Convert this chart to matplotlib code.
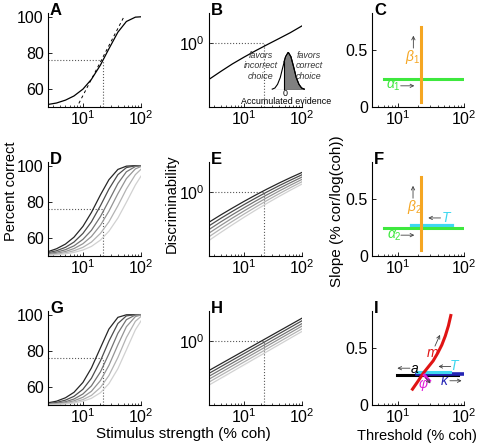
import matplotlib
matplotlib.use('Agg')
import matplotlib.pyplot as plt
from matplotlib.ticker import NullLocator, FixedLocator, LogLocator

plt.rcParams['font.family'] = ['Liberation Sans', 'DejaVu Sans']
plt.rcParams['mathtext.fontset'] = 'custom'
plt.rcParams['mathtext.rm'] = 'Liberation Sans'
plt.rcParams['mathtext.it'] = 'Liberation Sans:italic'
plt.rcParams['mathtext.bf'] = 'Liberation Sans:bold'

# ---- data ----
coh = [2.5, 3.5, 5, 7, 10, 14, 20, 28, 40, 56, 80, 100]
pc_a = [51.4, 52.2, 53.8, 56.1, 59.9, 65.3, 73.2, 82.2, 91.4, 97.3, 99.7, 99.9]
tangent_coh = [8.5, 51]
tangent_pc = [52, 100]
thresh_coh = 22
thresh_pc = 76

coh_b = [2.5, 4, 6.3, 10, 16, 25, 40, 63, 100]
dprime_b = [0.27, 0.36, 0.47, 0.60, 0.76, 0.94, 1.17, 1.45, 1.85]

# inset: distribution of accumulated evidence
evidence = [-2.2, -1.7, -1.2, -0.7, -0.2, 0.3, 0.8, 1.3, 1.8, 2.3, 2.8, 3.3, 3.8]
density = [0.01, 0.04, 0.14, 0.32, 0.61, 0.88, 1.0, 0.88, 0.61, 0.32, 0.14, 0.04, 0.01]

pc_d = [
    [52.4, 54.0, 56.6, 60.4, 66.4, 74.1, 83.8, 92.2, 97.9, 99.7, 100, 100],
    [51.8, 52.9, 54.8, 57.7, 62.5, 68.9, 77.8, 87.0, 95.0, 98.9, 99.9, 100],
    [51.3, 52.1, 53.5, 55.6, 59.2, 64.2, 71.8, 80.6, 90.1, 96.6, 99.5, 99.9],
    [50.9, 51.5, 52.5, 54.1, 56.8, 60.8, 67.0, 74.8, 84.5, 92.8, 98.2, 99.5],
    [50.6, 51.0, 51.8, 52.9, 54.8, 57.7, 62.5, 68.9, 77.8, 87.0, 95.0, 98.0],
    [50.4, 50.7, 51.2, 52.0, 53.3, 55.3, 58.8, 63.7, 71.0, 79.7, 89.3, 94.2],
]

dprime_e = [
    [0.337, 0.439, 0.560, 0.712, 0.899, 1.111, 1.375, 1.672, 2.02],
    [0.296, 0.388, 0.497, 0.635, 0.806, 1.003, 1.249, 1.528, 1.859],
    [0.259, 0.342, 0.441, 0.566, 0.724, 0.905, 1.134, 1.396, 1.710],
    [0.228, 0.301, 0.391, 0.505, 0.649, 0.817, 1.030, 1.276, 1.573],
    [0.200, 0.266, 0.347, 0.451, 0.583, 0.737, 0.935, 1.166, 1.446],
    [0.175, 0.234, 0.307, 0.402, 0.523, 0.666, 0.850, 1.066, 1.33],
]

pc_g = [
    [51.2, 52.1, 54.0, 57.0, 62.5, 70.5, 81.6, 92.0, 98.5, 99.9, 100, 100],
    [50.8, 51.4, 52.7, 54.8, 58.7, 64.8, 74.4, 85.3, 95.1, 99.3, 100, 100],
    [50.5, 51.0, 51.8, 53.3, 56.1, 60.6, 68.3, 78.3, 89.7, 97.2, 99.8, 100],
    [50.4, 50.7, 51.3, 52.3, 54.3, 57.6, 63.5, 71.9, 83.3, 93.3, 98.9, 99.8],
    [50.3, 50.5, 50.9, 51.6, 53.0, 55.3, 59.7, 66.3, 76.3, 87.3, 96.3, 99.0],
    [50.2, 50.3, 50.6, 51.1, 52.1, 53.7, 56.8, 61.8, 70.1, 80.5, 91.6, 96.5],
]

coh_h = [2.5, 100]
dprime_h = [
    [0.346, 2.27],
    [0.312, 2.07],
    [0.281, 1.87],
    [0.253, 1.71],
    [0.228, 1.55],
    [0.205, 1.41],
]

grays = ['0.15', '0.3', '0.45', '0.58', '0.7', '0.82']

# slope / threshold panels
alpha1_x, alpha1_y = [6, 100], [0.25, 0.25]
beta1_x, beta1_y = [22, 22], [0.04, 0.71]
alpha2_x, alpha2_y = [6, 100], [0.245, 0.245]
beta2_x, beta2_y = [22, 22], [0.05, 0.695]
t2_x, t2_y = [16, 65], [0.265, 0.265]
a_x, a_y = [9.7, 82], [0.262, 0.262]
kappa_x, kappa_y = [19, 100], [0.276, 0.276]
t3_x, t3_y = [19, 61], [0.289, 0.289]
m_x = [16.5, 20, 24, 29, 34, 40, 46, 52, 58, 63]
m_y = [0.14, 0.21, 0.28, 0.34, 0.39, 0.46, 0.53, 0.61, 0.70, 0.79]
phi_x, phi_y = [25, 29.8], [0.263, 0.214]

GREEN = '#3ee83e'
ORANGE = '#f5a623'
CYAN = '#3ed8f0'
BLUE = '#2424b4'
RED = '#e01414'
MAGENTA = '#e020d8'

W, H = 480, 447
fig = plt.figure(figsize=(W / 100, H / 100), dpi=100)

cols = [(48, 141), (209, 302), (372, 464)]
rows = [(13, 107), (162, 256), (311, 405)]


def make_ax(r, c):
    l, rr = cols[c]
    t, b = rows[r]
    ax = fig.add_axes([l / W, 1 - b / H, (rr - l) / W, (b - t) / H])
    ax.spines['top'].set_visible(False)
    ax.spines['right'].set_visible(False)
    for s in ('left', 'bottom'):
        ax.spines[s].set_linewidth(0.8)
    ax.set_xscale('log')
    ax.xaxis.set_major_locator(FixedLocator([10, 100]))
    ax.xaxis.set_minor_locator(LogLocator(base=10, subs=range(2, 10)))
    ax.tick_params(which='major', direction='in', length=3, width=0.6,
                   labelsize=11.5, pad=2)
    ax.tick_params(which='minor', direction='in', length=1.5, width=0.5)
    ax.tick_params(axis='y', pad=3)
    fig.text((l + 2) / W, 1 - (t + 2) / H, 'ABCDEFGHI'[r * 3 + c],
             fontsize=12, fontweight='bold', va='baseline', ha='left')
    return ax


def pc_axes(ax):
    ax.set_xlim(2.5, 100)
    ax.set_ylim(50, 102)
    ax.set_yticks([60, 80, 100])
    ax.yaxis.set_minor_locator(NullLocator())
    ax.plot([2.5, thresh_coh], [thresh_pc, thresh_pc], ':', color='0.35', lw=0.8)
    ax.plot([thresh_coh, thresh_coh], [50, thresh_pc], ':', color='0.35', lw=0.8)


def dp_axes(ax):
    ax.set_xlim(2.5, 100)
    ax.set_yscale('log')
    ax.set_ylim(0.1, 2.94)
    ax.yaxis.set_major_locator(FixedLocator([1]))
    ax.yaxis.set_minor_locator(NullLocator())
    ax.plot([2.5, thresh_coh], [1, 1], ':', color='0.35', lw=0.8)
    ax.plot([thresh_coh, thresh_coh], [0.1, 1], ':', color='0.35', lw=0.8)


def slope_axes(ax):
    ax.set_xlim(4, 100)
    ax.set_ylim(0, 0.83)
    ax.set_yticks([0, 0.5])
    ax.set_yticklabels(['0', '0.5'])
    ax.yaxis.set_minor_locator(NullLocator())


def arrow(ax, x0, y0, x1, y1):
    ax.annotate('', xy=(x1, y1), xytext=(x0, y0),
                arrowprops=dict(arrowstyle='->', lw=0.6, color='0.25',
                                mutation_scale=6, shrinkA=0, shrinkB=0))


# A
ax = make_ax(0, 0)
pc_axes(ax)
ax.plot(tangent_coh, tangent_pc, '--', color='k', lw=0.7, dashes=(3, 3))
ax.plot(coh, pc_a, color='k', lw=0.9)

# B
ax = make_ax(0, 1)
dp_axes(ax)
ax.plot(coh_b, dprime_b, color='k', lw=0.9)
ins = fig.add_axes([270 / W, 1 - 89.5 / H, 38 / W, 38 / H])
ins.axis('off')
ins.set_xlim(-2.62, 4.5)
ins.set_ylim(0, 1.02)
ins.plot(evidence, density, color='k', lw=0.8)
pos_x = [0] + [e for e in evidence if e > 0]
pos_y = [0.74] + [d for e, d in zip(evidence, density) if e > 0]
ins.fill_between(pos_x, pos_y, color='0.5', lw=0)
ins.plot(pos_x, pos_y, color='k', lw=0.8)
ins.plot([0, 0], [0, 0.74], color='k', lw=0.8)
ins.plot([evidence[0], evidence[-1]], [0, 0], color='k', lw=0.8)
fig.text(261 / W, 1 - 66 / H, 'favors\nincorrect\nchoice', fontsize=6.4,
         style='italic', ha='center', va='center', color='0.2')
fig.text(309 / W, 1 - 66 / H, 'favors\ncorrect\nchoice', fontsize=6.4,
         style='italic', ha='center', va='center', color='0.2')
fig.text(285 / W, 1 - 93 / H, '0', fontsize=6.4, ha='center', va='center')
fig.text(286 / W, 1 - 102 / H, 'Accumulated evidence', fontsize=6.4,
         ha='center', va='center')

# C
ax = make_ax(0, 2)
slope_axes(ax)
ax.plot(alpha1_x, alpha1_y, color=GREEN, lw=2.2)
ax.plot(beta1_x, beta1_y, color=ORANGE, lw=2.2)
ax.text(16.8, 0.445, r'$\beta_1$', color=ORANGE, fontsize=10, ha='center', va='center')
arrow(ax, 17, 0.52, 17, 0.63)
ax.text(8.6, 0.185, r'$\alpha_1$', color=GREEN, fontsize=10, ha='center', va='center')
arrow(ax, 10.9, 0.187, 17.6, 0.187)

# D
ax = make_ax(1, 0)
pc_axes(ax)
for k in range(6):
    ax.plot(coh, pc_d[k], color=grays[k], lw=0.9)

# E
ax = make_ax(1, 1)
dp_axes(ax)
for k in range(6):
    ax.plot(coh_b, dprime_e[k], color=grays[k], lw=0.9)

# F
ax = make_ax(1, 2)
slope_axes(ax)
ax.plot(t2_x, t2_y, color=CYAN, lw=3)
ax.plot(alpha2_x, alpha2_y, color=GREEN, lw=2.2)
ax.plot(beta2_x, beta2_y, color=ORANGE, lw=2.2)
ax.text(17.6, 0.435, r'$\beta_2$', color=ORANGE, fontsize=10, ha='center', va='center')
arrow(ax, 16.8, 0.51, 16.8, 0.62)
ax.text(55, 0.335, r'$T$', color=CYAN, fontsize=10, ha='center', va='center')
arrow(ax, 44, 0.336, 28.6, 0.336)
ax.text(8.9, 0.182, r'$\alpha_2$', color=GREEN, fontsize=10, ha='center', va='center')
arrow(ax, 11, 0.184, 17.6, 0.184)

# G
ax = make_ax(2, 0)
pc_axes(ax)
for k in range(6):
    ax.plot(coh, pc_g[k], color=grays[k], lw=0.9)

# H
ax = make_ax(2, 1)
dp_axes(ax)
for k in range(6):
    ax.plot(coh_h, dprime_h[k], color=grays[k], lw=0.9)

# I
ax = make_ax(2, 2)
slope_axes(ax)
ax.plot(a_x, a_y, color='k', lw=2.2)
ax.plot(kappa_x, kappa_y, color=BLUE, lw=2.6)
ax.plot(t3_x, t3_y, color=CYAN, lw=2.2)
ax.plot(m_x, m_y, color=RED, lw=2.2)
ax.plot(phi_x, phi_y, color=MAGENTA, lw=2.2)
ax.text(33.6, 0.46, r'$m$', color=RED, fontsize=10, ha='center', va='center')
arrow(ax, 36.2, 0.52, 43.2, 0.62)
ax.text(73, 0.34, r'$T$', color=CYAN, fontsize=10, ha='center', va='center')
arrow(ax, 62.8, 0.34, 40.8, 0.34)
ax.text(18, 0.318, r'$a$', color='k', fontsize=10, ha='center', va='center')
arrow(ax, 15.1, 0.325, 9.7, 0.325)
ax.text(24.2, 0.175, r'$\varphi$', color=MAGENTA, fontsize=10, ha='center', va='center')
arrow(ax, 26, 0.24, 31, 0.19)
ax.text(51.4, 0.212, r'$\kappa$', color=BLUE, fontsize=10, ha='center', va='center')
arrow(ax, 61, 0.214, 92, 0.214)

# shared labels
fig.text(11 / W, 1 - 191 / H, 'Percent correct', rotation=90, fontsize=10.5,
         ha='center', va='center')
fig.text(172 / W, 1 - 204 / H, 'Discriminability', rotation=90, fontsize=10.5,
         ha='center', va='center')
fig.text(337 / W, 1 - 211 / H, 'Slope (% cor/log(coh))', rotation=90, fontsize=11,
         ha='center', va='center')
fig.text(183 / W, 1 - 434 / H, 'Stimulus strength (% coh)', fontsize=11,
         ha='center', va='center')
fig.text(417 / W, 1 - 436 / H, 'Threshold (% coh)', fontsize=10.5,
         ha='center', va='center')

fig.savefig('out.png', dpi=100)
